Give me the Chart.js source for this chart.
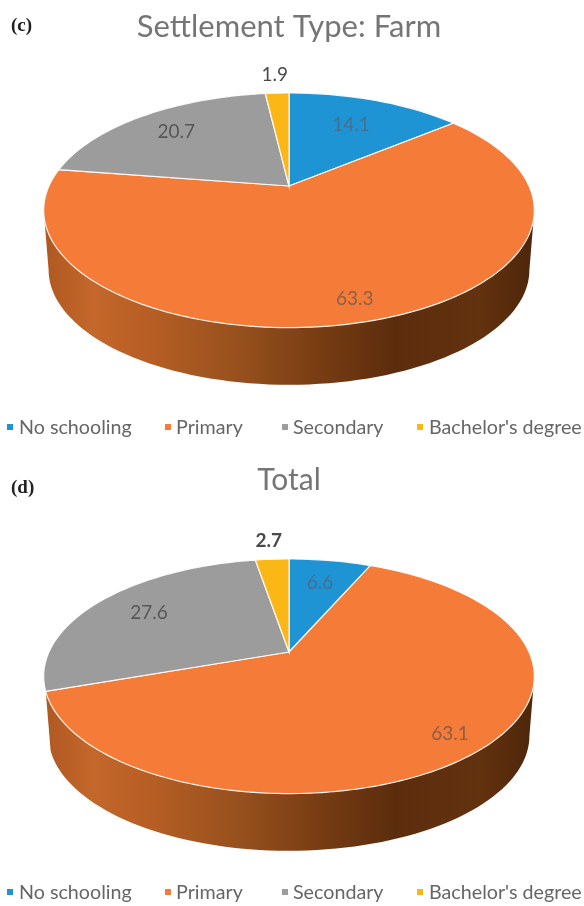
<!DOCTYPE html>
<html>
<head>
<meta charset="utf-8">
<title>Settlement type pies</title>
<script src="https://cdn.jsdelivr.net/npm/chart.js@4/dist/chart.umd.min.js"></script>
<style>
  body { margin: 0; background: #fff; }
  #page { position: relative; width: 584px; height: 906px; overflow: hidden; }
  canvas { position: absolute; left: 0; filter: blur(0.6px); }
  #chartFarm { top: 0; }
  #chartTotal { top: 453px; }
  .tag { position: absolute; left: 11px; font: bold 19px "Liberation Serif", serif; color: #222; }
  .legend { position: absolute; left: 0; width: 584px; height: 24px; filter: blur(0.5px); }
  .legend span { position: absolute; top: 0; font: 19.7px/24px Lato, sans-serif; color: #666; white-space: nowrap; }
  .legend i { position: absolute; top: 9px; width: 6px; height: 6px; }
</style>
</head>
<body>
<div id="page">
  <canvas id="chartFarm" width="584" height="453"></canvas>
  <canvas id="chartTotal" width="584" height="453"></canvas>
  <span class="tag" style="top:14px">(c)</span>
  <span class="tag" style="top:476px">(d)</span>
  <div class="legend" id="legendFarm" style="top:415px"></div>
  <div class="legend" id="legendTotal" style="top:880px"></div>
</div>
<script>
const categories = ["No schooling", "Primary", "Secondary", "Bachelor's degree"];
const farmValues = [14.1, 63.3, 20.7, 1.9];
const totalValues = [6.6, 63.1, 27.6, 2.7];
const sliceColors = ["#1e94d4", "#f47b38", "#9c9c9c", "#fbb715"];

// Excel style 3D pie: the circle is tilted with a small perspective, so the
// apex is not in the middle of the ellipse. Angles come from the chart's arcs.
const pie3d = {
  id: "pie3d",
  beforeDatasetsDraw(chart, args, opts) {
    const ctx = chart.ctx;
    const arcs = chart.getDatasetMeta(0).data;
    const cx = arcs[0].x;
    const cy = opts.apexY;
    const b = arcs[0].outerRadius;
    const p = opts.perspective;
    const a = opts.tilt;

    const project = (u, v, s = 1, dy = 0) => {
      const w = 1 - p * v;
      return [cx + s * b * u / w, cy + s * a * v / w + dy];
    };
    const edge = (t, s, dy) => project(Math.cos(t), Math.sin(t), s, dy);

    // side wall, only the front of the big slice shows in the picture
    const frontFrom = Math.asin(p);
    const frontTo = Math.PI - frontFrom;
    const arc = arcs[1];
    const t0 = Math.max(arc.startAngle, frontFrom);
    const t1 = Math.min(arc.endAngle, frontTo);
    const grad = ctx.createLinearGradient(cx - b, 0, cx + b, 0);
    opts.wallStops.forEach(([pos, col]) => grad.addColorStop(pos, col));
    ctx.beginPath();
    for (let k = 0; k <= 80; k++) {
      const [x, y] = edge(t0 + (t1 - t0) * k / 80, 1, 0);
      k === 0 ? ctx.moveTo(x, y) : ctx.lineTo(x, y);
    }
    for (let k = 80; k >= 0; k--) {
      const [x, y] = edge(t0 + (t1 - t0) * k / 80, opts.wallScale, opts.wallDepth);
      ctx.lineTo(x, y);
    }
    ctx.closePath();
    ctx.fillStyle = grad;
    ctx.fill();

    // top face
    arcs.forEach((slice) => {
      ctx.beginPath();
      ctx.moveTo(cx, cy);
      const steps = Math.max(4, Math.ceil((slice.endAngle - slice.startAngle) * 40));
      for (let k = 0; k <= steps; k++) {
        const [x, y] = edge(slice.startAngle + (slice.endAngle - slice.startAngle) * k / steps, 1, 0);
        ctx.lineTo(x, y);
      }
      ctx.closePath();
      ctx.fillStyle = slice.options.backgroundColor;
      ctx.fill();
      ctx.strokeStyle = "rgba(255,255,255,0.9)";
      ctx.lineWidth = 1.2;
      ctx.stroke();
    });

    // value labels
    ctx.textAlign = "center";
    ctx.textBaseline = "middle";
    arcs.forEach((slice, i) => {
      const mid = (slice.startAngle + slice.endAngle) / 2;
      const r = opts.labelRadius[i];
      const [x, y] = project(r * Math.cos(mid), r * Math.sin(mid));
      const outside = r > 1;
      ctx.font = (outside && opts.boldOutside ? "bold " : "") + "19px Lato, sans-serif";
      ctx.fillStyle = outside ? "#4a4a4a" : i === 0 ? "#44708f" : i === 1 ? "#8c5f48" : "#575757";
      ctx.fillText(chart.data.datasets[0].data[i].toFixed(1), x, y);
    });
    return false;
  }
};

const wallStops = [[0, "#b05a22"], [0.09, "#c4672b"], [0.2, "#b85f25"], [0.4, "#96501d"], [0.55, "#7a3e14"], [0.72, "#5c2d0d"], [0.9, "#63320f"], [1, "#4f270b"]];

function makePie(id, titleText, titleSize, values, apexY, labelRadius, boldOutside, titleTop) {
  return new Chart(document.getElementById(id), {
    type: "pie",
    data: {
      labels: categories,
      datasets: [{
        data: values,
        backgroundColor: sliceColors,
        borderColor: "#ffffff",
        borderWidth: 1,
        radius: 240
      }]
    },
    plugins: [pie3d],
    options: {
      responsive: false,
      animation: false,
      layout: { padding: { right: 6, top: titleTop } },
      plugins: {
        tooltip: { enabled: false },
        legend: { display: false },
        title: {
          display: true,
          text: titleText,
          color: "#757575",
          font: { family: "Lato, sans-serif", size: titleSize, weight: "normal" },
          padding: { top: 0, bottom: 10 }
        },
        pie3d: {
          apexY: apexY,
          perspective: 0.207,
          tilt: 112.3,
          wallDepth: 60,
          wallScale: 0.98,
          wallStops: wallStops,
          labelRadius: labelRadius,
          boldOutside: boldOutside
        }
      }
    }
  });
}

// the legend row is wider than the chart's own legend allows, so it is html
function renderLegend(id) {
  const box = document.getElementById(id);
  const markerLeft = [7, 165, 282, 417];
  const textLeft = [19, 176, 293, 429];
  categories.forEach((cat, i) => {
    const marker = document.createElement("i");
    marker.style.left = markerLeft[i] + "px";
    marker.style.background = sliceColors[i];
    const label = document.createElement("span");
    label.style.left = textLeft[i] + "px";
    label.textContent = cat;
    box.appendChild(marker);
    box.appendChild(label);
  });
}

makePie("chartFarm", "Settlement Type: Farm", 31, farmValues, 186, [0.68, 0.86, 0.75, 1.25], false, 8);
makePie("chartTotal", "Total", 30, totalValues, 199, [0.72, 0.86, 0.73, 1.25], true, 9);
renderLegend("legendFarm");
renderLegend("legendTotal");
</script>
</body>
</html>
